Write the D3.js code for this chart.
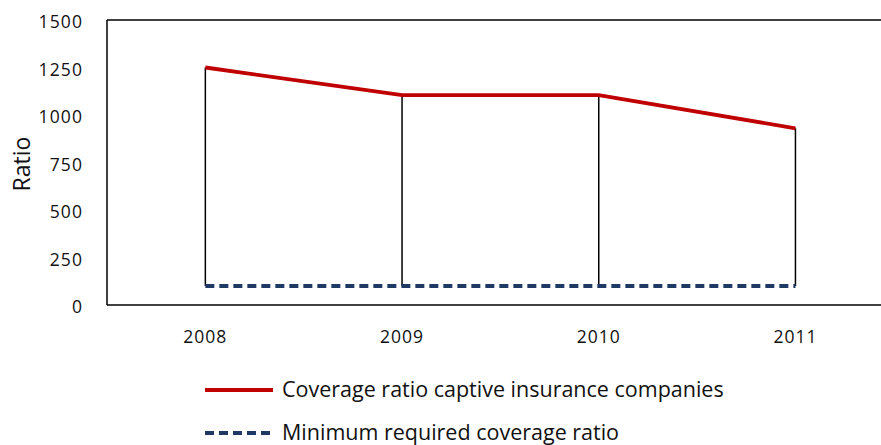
<!DOCTYPE html>
<html>
<head>
<meta charset="utf-8">
<script src="https://cdn.jsdelivr.net/npm/d3@7"></script>
<style>
  html, body { margin: 0; padding: 0; background: #fff; }
  svg { display: block; font-family: "Open Sans", sans-serif; }
</style>
</head>
<body>
<svg id="chart" width="881" height="445"></svg>
<script>
const years = ["2008", "2009", "2010", "2011"];
const coverageRatio = [1250, 1105, 1105, 930];
const minimumRequired = [100, 100, 100, 100];
const yTicks = [0, 250, 500, 750, 1000, 1250, 1500];
const seriesNames = ["Coverage ratio captive insurance companies", "Minimum required coverage ratio"];

(function () {
const svg = d3.select("#chart");
const pLeft = 107, pTop = 20, pBottom = 305, bandW = 196.7;
const pRight = pLeft + bandW * years.length;

const x = d3.scaleBand().domain(years).range([pLeft, pRight]).padding(0);
const xc = d => x(d) + x.bandwidth() / 2;
const y = d3.scaleLinear().domain([0, 1500]).range([pBottom, pTop]);

// plot frame
svg.append("line").attr("x1", pLeft).attr("x2", 881).attr("y1", pTop).attr("y2", pTop)
  .attr("stroke", "#000").attr("stroke-width", 1.5);
svg.append("line").attr("x1", pLeft).attr("x2", 881).attr("y1", pBottom).attr("y2", pBottom)
  .attr("stroke", "#000").attr("stroke-width", 1.5);
svg.append("line").attr("x1", pLeft).attr("x2", pLeft).attr("y1", pTop).attr("y2", pBottom)
  .attr("stroke", "#000").attr("stroke-width", 1.5);

// y axis
const yAxis = d3.axisLeft(y).tickValues(yTicks).tickFormat(d3.format("d")).tickSize(0).tickPadding(0);
const gy = svg.append("g").attr("transform", `translate(83,2)`).call(yAxis);
gy.select(".domain").remove();
gy.selectAll("text").attr("font-size", 17.5).attr("fill", "#111")
  .attr("font-family", "'Open Sans', sans-serif").attr("letter-spacing", 1.1);

// x axis
const xAxis = d3.axisBottom(x).tickSize(0).tickPadding(0);
const gx = svg.append("g").attr("transform", `translate(0,${pBottom + 26})`).call(xAxis);
gx.select(".domain").remove();
gx.selectAll("text").attr("font-size", 17.5).attr("fill", "#111")
  .attr("font-family", "'Open Sans', sans-serif").attr("letter-spacing", 1);

// y axis title
svg.append("text").attr("transform", "translate(30,164) rotate(-90)")
  .attr("text-anchor", "middle").attr("font-size", 23).attr("fill", "#111").text("Ratio");

// drop lines
svg.append("g").selectAll("line").data(years).join("line")
  .attr("x1", d => xc(d)).attr("x2", d => xc(d))
  .attr("y1", (d, i) => y(coverageRatio[i])).attr("y2", (d, i) => y(minimumRequired[i]))
  .attr("stroke", "#000").attr("stroke-width", 1.5);

// minimum series
const line = d3.line().x((d, i) => xc(years[i])).y(d => y(d));
svg.append("path").datum(minimumRequired).attr("d", line)
  .attr("fill", "none").attr("stroke", "#1F3864").attr("stroke-width", 3.8)
  .attr("stroke-dasharray", "9,5").attr("stroke-linecap", "butt");

// coverage series
svg.append("path").datum(coverageRatio).attr("d", line)
  .attr("fill", "none").attr("stroke", "#C00000").attr("stroke-width", 3.8);

// legend
const legend = svg.append("g");
const ly = [390, 433];
legend.append("line").attr("x1", 205).attr("x2", 273).attr("y1", ly[0]).attr("y2", ly[0])
  .attr("stroke", "#C00000").attr("stroke-width", 3.8);
legend.append("line").attr("x1", 205).attr("x2", 273).attr("y1", ly[1]).attr("y2", ly[1])
  .attr("stroke", "#1F3864").attr("stroke-width", 3.8).attr("stroke-dasharray", "9,5");
legend.selectAll("text").data(seriesNames).join("text")
  .attr("x", 282).attr("y", (d, i) => ly[i] + 7)
  .attr("font-size", 21.5).attr("fill", "#111").text(d => d);
})();
</script>
</body>
</html>
